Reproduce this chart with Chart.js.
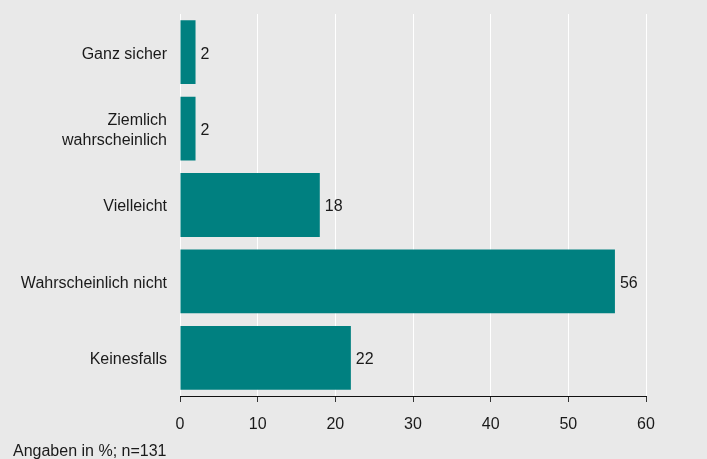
<!DOCTYPE html>
<html>
<head>
<meta charset="utf-8">
<script src="https://cdn.jsdelivr.net/npm/chart.js@4/dist/chart.umd.min.js"></script>
<style>
html,body{margin:0;padding:0;background:#e9e9e9;}
canvas{display:block;}
</style>
</head>
<body>
<canvas id="c" width="707" height="459"></canvas>
<script>
const categories = ["Ganz sicher", ["Ziemlich", "wahrscheinlich"], "Vielleicht", "Wahrscheinlich nicht", "Keinesfalls"];
const values = [2, 2, 18, 56, 22];
const xTicks = [0, 10, 20, 30, 40, 50, 60];
const footnote = "Angaben in %; n=131";

const FONT = "'Liberation Sans', Arial, Helvetica, sans-serif";
const TEXT = "#1a1a1a";

const bgPlugin = {
  id: "bg",
  beforeDraw(chart) {
    const ctx = chart.ctx;
    ctx.save();
    ctx.fillStyle = "#e9e9e9";
    ctx.fillRect(0, 0, chart.width, chart.height);
    ctx.restore();
  }
};

const labelPlugin = {
  id: "valueLabels",
  afterDatasetsDraw(chart) {
    const ctx = chart.ctx;
    const meta = chart.getDatasetMeta(0);
    ctx.save();
    ctx.font = "16px " + FONT;
    ctx.fillStyle = TEXT;
    ctx.textAlign = "left";
    ctx.textBaseline = "middle";
    meta.data.forEach((el, i) => {
      ctx.fillText(String(values[i]), el.x + 5, el.y + 2);
    });
    ctx.restore();
  }
};

const footPlugin = {
  id: "foot",
  afterDraw(chart) {
    const ctx = chart.ctx;
    ctx.save();
    ctx.font = "16px " + FONT;
    ctx.fillStyle = TEXT;
    ctx.textAlign = "left";
    ctx.textBaseline = "alphabetic";
    ctx.fillText(footnote, 13, 456);
    ctx.restore();
  }
};

new Chart(document.getElementById("c"), {
  type: "bar",
  data: {
    labels: categories,
    datasets: [{
      data: values,
      backgroundColor: "#008080",
      borderWidth: 0,
      categoryPercentage: 1,
      barPercentage: 0.835
    }]
  },
  options: {
    indexAxis: "y",
    responsive: false,
    animation: false,
    layout: { padding: { top: 14, right: 61, left: 0, bottom: 0 } },
    plugins: {
      legend: { display: false },
      tooltip: { enabled: false },
      title: { display: false }
    },
    scales: {
      x: {
        min: xTicks[0],
        max: xTicks[xTicks.length - 1],
        afterBuildTicks(scale) {
          scale.ticks = xTicks.map(v => ({ value: v }));
        },
        afterFit(scale) { scale.height = 63; },
        grid: {
          color: "#ffffff",
          lineWidth: 1,
          drawTicks: true,
          tickLength: 6,
          tickColor: "#333333"
        },
        border: { display: true, color: "#111111", width: 1 },
        ticks: {
          font: { size: 16, family: FONT },
          color: TEXT,
          padding: 13,
          maxRotation: 0
        }
      },
      y: {
        afterFit(scale) {
          scale.width = 180;
          scale.paddingTop = 0;
          scale.paddingBottom = 0;
        },
        grid: { display: false, drawTicks: false },
        border: { display: false },
        ticks: {
          font: { size: 16, family: FONT, lineHeight: 1.3 },
          color: TEXT,
          padding: 13,
          labelOffset: 2
        }
      }
    }
  },
  plugins: [bgPlugin, labelPlugin, footPlugin]
});
</script>
</body>
</html>
